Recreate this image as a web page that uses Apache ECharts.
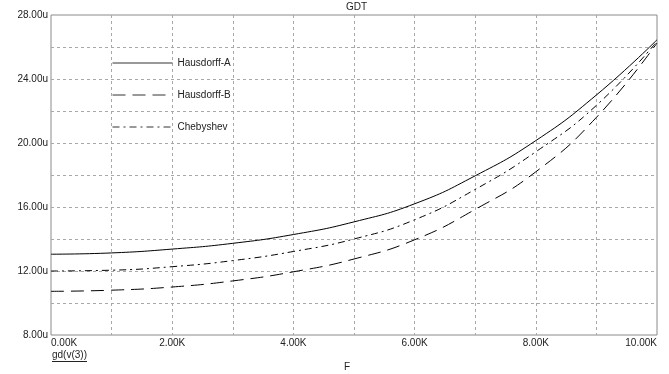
<!DOCTYPE html>
<html>
<head>
<meta charset="utf-8">
<script src="https://cdn.jsdelivr.net/npm/echarts@6/dist/echarts.min.js"></script>
<style>
html,body{margin:0;padding:0;background:#fff;}
#c{width:669px;height:374px;}
</style>
</head>
<body>
<div id="c"></div>
<script>
// Frequency (Hz)
var freq = [0, 1000, 2000, 3000, 4000, 5000, 6000, 7000, 8000, 9000, 10000];
// Group delay (u = microseconds)
var hausdorffA = [13.05, 13.13, 13.37, 13.73, 14.28, 15.07, 16.20, 17.95, 20.15, 23.00, 26.45];
var hausdorffB = [10.73, 10.80, 11.00, 11.38, 11.95, 12.75, 13.95, 15.85, 18.20, 21.60, 26.25];
var chebyshev  = [12.00, 12.05, 12.27, 12.65, 13.22, 14.00, 15.20, 17.10, 19.45, 22.35, 26.35];
var seriesNames = ['Hausdorff-A', 'Hausdorff-B', 'Chebyshev'];
var titleText = 'GDT';
var yAxisTitle = 'gd(v(3))';
var xAxisTitle = 'F';

function pairs(ys){ return freq.map(function(f,i){ return [f, ys[i]]; }); }

var font = 'Arial, "Liberation Sans", sans-serif';
var txt = '#222';
var chart = echarts.init(document.getElementById('c'), null, {renderer:'canvas'});

function mkSeries(name, data, dash){
  return {
    name: name, type: 'line', data: pairs(data), smooth: 0.5,
    symbol: 'none', showSymbol: false, silent: true, animation: false,
    itemStyle: {color: '#000'},
    lineStyle: {color: '#000', width: 1, type: dash}
  };
}

chart.setOption({
  animation: false,
  backgroundColor: '#fff',
  grid: {left: 51, right: 12, top: 15, bottom: 39, show: true, borderColor: '#8a8a8a', borderWidth: 1, containLabel: false},
  legend: {
    data: seriesNames, orient: 'vertical', left: 112, top: 56, padding: 0,
    itemWidth: 60, itemHeight: 14, itemGap: 18,
    itemStyle: {opacity: 0},
    lineStyle: {width: 1, color: '#333'},
    textStyle: {fontFamily: font, fontSize: 10, color: txt, lineHeight: 14}
  },
  xAxis: {
    type: 'value', min: 0, max: 10000, interval: 1000,
    axisLine: {show: false}, axisTick: {show: false},
    splitLine: {show: true, showMinLine: false, showMaxLine: false, lineStyle: {color: '#a8a8a8', type: [3,3], width: 1}},
    axisLabel: {
      margin: 3, fontFamily: font, fontSize: 10, color: txt,
      alignMinLabel: 'left', alignMaxLabel: 'right',
      formatter: function(v){ return v % 2000 === 0 ? (v/1000).toFixed(2) + 'K' : ''; }
    }
  },
  yAxis: {
    type: 'value', min: 8, max: 28, interval: 2,
    axisLine: {show: false}, axisTick: {show: false},
    splitLine: {show: true, showMinLine: false, showMaxLine: false, lineStyle: {color: '#a8a8a8', type: [3,3], width: 1}},
    axisLabel: {
      margin: 3, fontFamily: font, fontSize: 10, color: txt,
      formatter: function(v){ return v % 4 === 0 ? v.toFixed(2) + 'u' : ''; }
    }
  },
  series: [
    mkSeries(seriesNames[0], hausdorffA, 'solid'),
    mkSeries(seriesNames[1], hausdorffB, [13, 7]),
    mkSeries(seriesNames[2], chebyshev, [7, 4, 2, 4])
  ],
  graphic: [
    {type: 'text', left: 346, top: 2, style: {text: titleText, font: '10px ' + font, fill: txt}},
    {type: 'text', left: 52, top: 350, style: {text: yAxisTitle, font: '10px ' + font, fill: txt}},
    {type: 'line', shape: {x1: 52, y1: 361.5, x2: 87, y2: 361.5}, style: {stroke: txt, lineWidth: 1}},
    {type: 'text', left: 344, top: 362, style: {text: xAxisTitle, font: '10px ' + font, fill: txt}}
  ]
});
</script>
</body>
</html>
